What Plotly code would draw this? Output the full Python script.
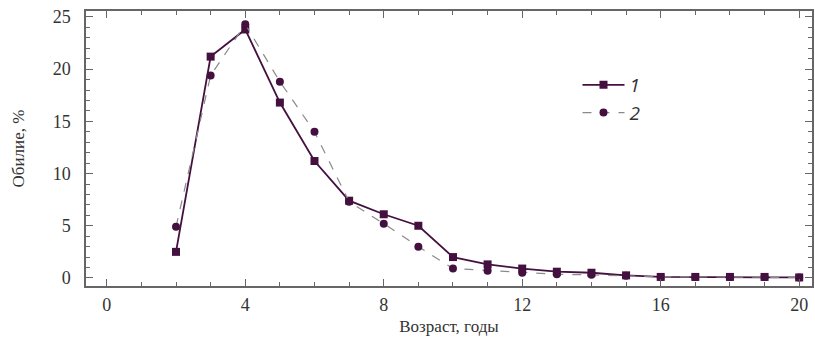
import plotly.graph_objects as go

ages = list(range(2, 21))
series1 = [2.5, 21.2, 23.8, 16.8, 11.2, 7.4, 6.1, 5.0, 2.0, 1.3, 0.9, 0.6, 0.5, 0.25, 0.1, 0.1, 0.1, 0.1, 0.05]
series2 = [4.9, 19.4, 24.3, 18.8, 14.0, 7.3, 5.2, 3.0, 0.9, 0.7, 0.5, 0.35, 0.3, 0.2, 0.1, 0.1, 0.1, 0.1, 0.05]
names = ["1", "2"]
x_ticks = [0, 4, 8, 12, 16, 20]
y_ticks = [0, 5, 10, 15, 20, 25]

purple = "#44103f"
serif = "Liberation Serif"
fig = go.Figure()
fig.add_trace(go.Scatter(x=ages, y=series1, name=names[0], mode="lines+markers",
                         line=dict(color=purple, width=1.8),
                         marker=dict(symbol="square", size=8, color=purple)))
fig.add_trace(go.Scatter(x=ages, y=series2, name=names[1], mode="lines+markers",
                         line=dict(color="#8a8a8a", width=1.2, dash="dash"),
                         marker=dict(symbol="circle", size=8, color=purple)))

axis_common = dict(showline=True, linecolor="#666", linewidth=1.5, mirror="ticks",
                   ticks="inside", ticklen=7, tickcolor="#666", tickwidth=1.3,
                   showgrid=False, zeroline=False,
                   tickfont=dict(family=serif, size=18, color="#333"),
                   minor=dict(ticks="inside", ticklen=4, dtick=1, tickcolor="#666", tickwidth=1))

fig.update_xaxes(range=[-0.6, 20.37], tickvals=x_ticks, **axis_common,
                 title=dict(text="Возраст, годы", font=dict(family=serif, size=17, color="#333"), standoff=6),
                 ticklabelstandoff=2)
fig.update_yaxes(range=[-0.77, 25.57], tickvals=y_ticks, **axis_common,
                 title=dict(text="Обилие, %", font=dict(family=serif, size=17, color="#333"), standoff=24),
                 ticklabelstandoff=10)

fig.update_layout(width=815, height=347, margin=dict(l=86, r=1, t=11, b=61),
                  plot_bgcolor="white", paper_bgcolor="white",
                  showlegend=True,
                  legend=dict(x=0.677, y=0.68, xanchor="left", yanchor="middle",
                              bgcolor="rgba(0,0,0,0)", itemwidth=42,
                              font=dict(family="Open Sans", size=19, color="#333", style="italic")))
fig.write_html("out.html")
